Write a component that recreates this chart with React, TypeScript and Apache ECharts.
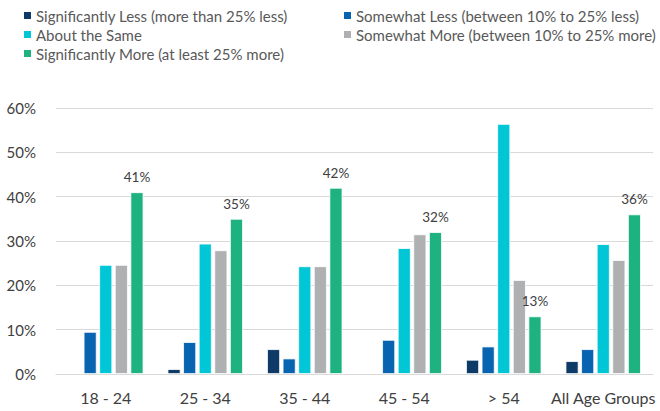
import React, { useEffect, useRef } from "react";
import * as echarts from "echarts";

const categories = ["18 - 24", "25 - 34", "35 - 44", "45 - 54", "> 54", "All Age Groups"];
const seriesNames = [
  "Significantly Less (more than 25% less)",
  "Somewhat Less (between 10% to 25% less)",
  "About the Same",
  "Somewhat More (between 10% to 25% more)",
  "Significantly More (at least 25% more)",
];
const sigLess = [0, 1.1, 5.6, 0, 3.2, 2.9];
const somLess = [9.5, 7.2, 3.5, 7.7, 6.2, 5.6];
const aboutSame = [24.6, 29.4, 24.3, 28.4, 56.4, 29.3];
const somMore = [24.6, 27.9, 24.3, 31.5, 21.2, 25.7];
const sigMore = [41, 35, 42, 32, 13, 36];
const yTicks = [0, 10, 20, 30, 40, 50, 60];

const colors = ["#0d3a66", "#0864b1", "#00c6d6", "#aeb0b1", "#1db27f"];
const FONT = "Lato, 'Liberation Sans', sans-serif";

export default function App() {
  const ref = useRef<HTMLDivElement>(null);
  useEffect(() => {
    document.body.style.margin = "0";
    if (!ref.current) return;
    const chart = echarts.init(ref.current, undefined, { renderer: "svg" });
    const data = [sigLess, somLess, aboutSame, somMore, sigMore];
    const legendText = { fontFamily: FONT, fontSize: 15, color: "#595959", padding: [0, 0, 0, -1] };
    chart.setOption({
      animation: false,
      color: colors,
      textStyle: { fontFamily: FONT },
      legend: [
        {
          data: [seriesNames[0], seriesNames[2], seriesNames[4]],
          orient: "vertical",
          left: 17,
          top: 3,
          itemWidth: 9,
          itemHeight: 9,
          itemGap: 4,
          icon: "rect",
          textStyle: legendText,
        },
        {
          data: [seriesNames[1], seriesNames[3]],
          orient: "vertical",
          left: 337,
          top: 3,
          itemWidth: 9,
          itemHeight: 9,
          itemGap: 4,
          icon: "rect",
          textStyle: legendText,
        },
      ],
      grid: { left: 56, right: 7, top: 108, bottom: 37, containLabel: false },
      xAxis: {
        type: "category",
        data: categories,
        axisTick: { show: false },
        axisLine: { lineStyle: { color: "#d9d9d9" } },
        axisLabel: { fontFamily: FONT, fontSize: 16, color: "#404040", margin: 15, interval: 0 },
      },
      yAxis: {
        type: "value",
        min: yTicks[0],
        max: yTicks[yTicks.length - 1],
        interval: 10,
        axisLine: { show: false },
        axisTick: { show: false },
        splitLine: { lineStyle: { color: "#d9d9d9" } },
        axisLabel: {
          fontFamily: FONT,
          fontSize: 15,
          color: "#404040",
          margin: 20,
          formatter: (v: number) => `${v}%`,
        },
      },
      series: seriesNames.map((name, i) => ({
        name,
        type: "bar",
        data: data[i].map((v) => (v === 0 ? null : v)),
        barWidth: 13,
        barGap: "20%",
        itemStyle: { color: colors[i], borderColor: "#ffffff", borderWidth: 0.8 },
        label:
          i === 4
            ? {
                show: true,
                position: "top",
                distance: 8,
                formatter: (p: any) => `${Math.round(p.value)}%`,
                fontFamily: FONT,
                fontSize: 13.5,
                color: "#404040",
              }
            : { show: false },
      })),
    });
    return () => chart.dispose();
  }, []);
  return <div ref={ref} style={{ width: 660, height: 411 }} />;
}
